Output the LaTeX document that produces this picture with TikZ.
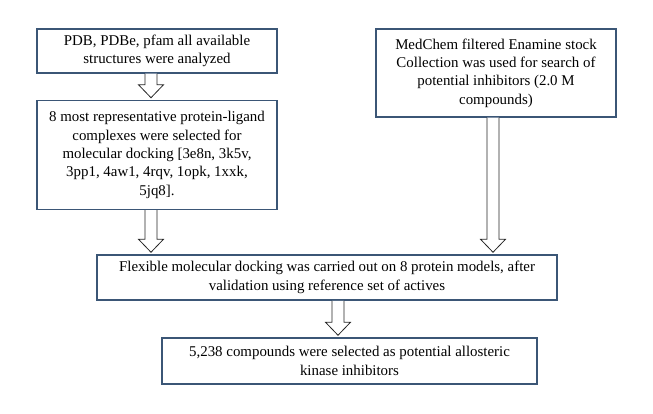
\documentclass[tikz,border=0pt]{standalone}
\usepackage{fontspec}
\setmainfont{Liberation Serif}
\usetikzlibrary{calc}

\newcommand{\blockarrow}[3]{%
  \draw[hollow] let \p1=(#2.south), \p2=(#3.north) in
    (#1pt-6pt,\y1) -- (#1pt-6pt,\y2+15pt) -- (#1pt-12.5pt,\y2+15pt)
    -- (#1pt,\y2+2pt) -- (#1pt+12.5pt,\y2+15pt) -- (#1pt+6pt,\y2+15pt)
    -- (#1pt+6pt,\y1);}

\begin{document}
\begin{tikzpicture}[x=1pt,y=-1pt,
  stepbox/.style={draw=boxblue,line width=1.5pt,rectangle,align=center,
    inner sep=0pt,font=\fontsize{14.9}{18.3}\selectfont},
  hollow/.style={draw=black!85,fill=white,line width=0.8pt,line join=miter}]
\definecolor{boxblue}{HTML}{3B5676}
\useasboundingbox (0,0) rectangle (653,414);
\node [stepbox,minimum width=240,minimum height=44] (pdb) at (157,51)
  {PDB, PDBe, pfam all available\\structures were analyzed};
\node [stepbox,minimum width=240,minimum height=109] (complexes) at (157,155)
  {8 most representative protein-ligand\\complexes were selected for\\molecular docking [3e8n, 3k5v,\\3pp1, 4aw1, 4rqv, 1opk, 1xxk,\\5jq8].};
\node [stepbox,minimum width=240,minimum height=88] (enamine) at (496,73)
  {MedChem filtered Enamine stock\\Collection was used for search of\\potential inhibitors (2.0 M\\compounds)};
\node [stepbox,minimum width=460,minimum height=45] (docking) at (327,277.5)
  {Flexible molecular docking was carried out on 8 protein models, after\\validation using reference set of actives};
\node [stepbox,minimum width=375,minimum height=46] (selected) at (349.5,361)
  {5,238 compounds were selected as potential allosteric\\kinase inhibitors};
\blockarrow{151}{pdb}{complexes}
\blockarrow{151}{complexes}{docking}
\blockarrow{493}{enamine}{docking}
\blockarrow{338}{docking}{selected}
\end{tikzpicture}
\end{document}
